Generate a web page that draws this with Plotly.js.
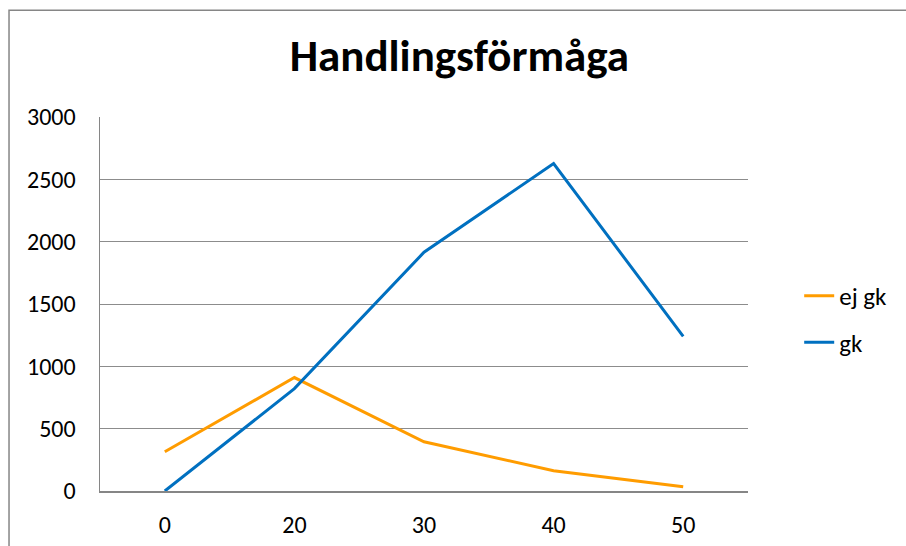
<!DOCTYPE html>
<html>
<head>
<meta charset="utf-8">
<script src="https://cdn.plot.ly/plotly-3.0.1.min.js"></script>
<style>html,body{margin:0;padding:0;background:#fff;}#chart{width:906px;height:546px;}</style>
</head>
<body>
<div id="chart"></div>
<script>
const categories = ['0', '20', '30', '40', '50'];
const ejGk = [315, 910, 395, 163, 35];
const gk = [0, 821, 1915, 2627, 1240];
const yTicks = [0, 500, 1000, 1500, 2000, 2500, 3000];

const font = 'Carlito, Calibri, "Open Sans", "Noto Sans", sans-serif';

const traces = [
  {x: categories, y: ejGk, name: 'ej gk', type: 'scatter', mode: 'lines',
   line: {color: '#FF9C00', width: 3}, legendgroup: 'a'},
  {x: categories, y: gk, name: 'gk', type: 'scatter', mode: 'lines',
   line: {color: '#0070C0', width: 3}, legendgroup: 'b'}
];

const layout = {
  width: 906, height: 546,
  margin: {l: 100, r: 158, t: 116.7, b: 55, pad: 0},
  paper_bgcolor: '#fff', plot_bgcolor: '#fff',
  font: {family: font, size: 24, color: '#000'},
  title: {text: '<b>Handlingsförmåga</b>', font: {family: font, size: 45, color: '#000'},
          x: 0.507, xanchor: 'center', y: 0.898, yanchor: 'middle'},
  xaxis: {type: 'category', range: [-0.5, 4.5], showgrid: false, zeroline: false,
          showline: true, linecolor: '#868686', linewidth: 1.5,
          ticks: '', ticklabelstandoff: 12, tickfont: {size: 24}},
  yaxis: {range: [0, 3000], tickvals: yTicks, ticktext: yTicks.map(String),
          showgrid: true, gridcolor: '#8c8c8c', gridwidth: 1, zeroline: false,
          showline: true, linecolor: '#868686', linewidth: 1.5,
          ticks: '', ticklabelstandoff: 18, tickfont: {size: 24}},
  showlegend: true,
  legend: {x: 1.079, y: 0.46, xanchor: 'left', yanchor: 'middle',
           traceorder: 'grouped', tracegroupgap: 11, font: {size: 25},
           bgcolor: 'rgba(0,0,0,0)'},
  shapes: [
    {type: 'path', xref: 'paper', yref: 'paper',
     path: 'M -0.1404,-0.2 L -0.1404,1.2851 L 1.3,1.2851',
     line: {color: '#868686', width: 1.5}}
  ]
};

Plotly.newPlot('chart', traces, layout, {displayModeBar: false, staticPlot: true});
</script>
</body>
</html>
